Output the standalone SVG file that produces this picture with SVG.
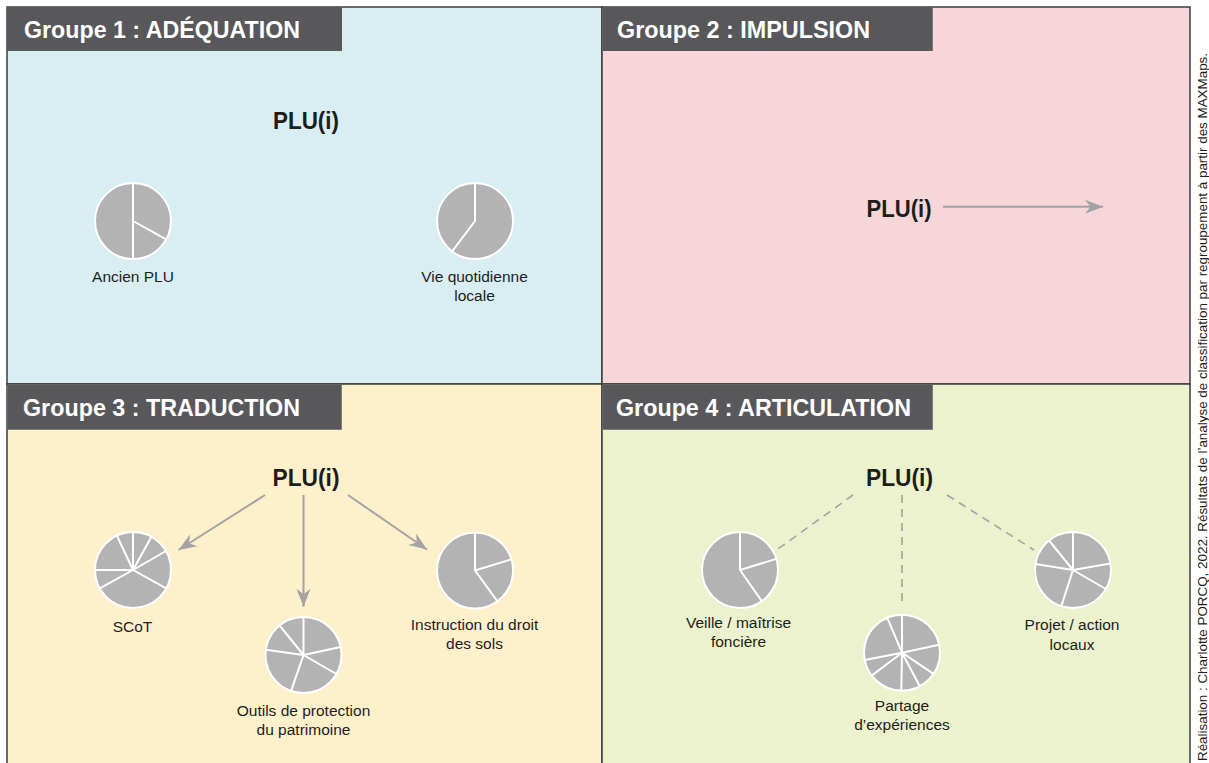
<svg xmlns="http://www.w3.org/2000/svg" width="1209" height="763" viewBox="0 0 1209 763">
<style>
.panel{stroke:#3c3c3c;stroke-width:1.5}
.tab{fill:#58585a}
.tabt{font-family:"Liberation Sans",Arial,sans-serif;font-weight:bold;font-size:23px;fill:#ffffff}
.plu{font-family:"Liberation Sans",Arial,sans-serif;font-weight:bold;font-size:24px;fill:#1d1d1b;text-anchor:middle}
.lbl{font-family:"Liberation Sans",Arial,sans-serif;font-size:15.5px;fill:#1d1d1b;text-anchor:middle}
.pie{fill:#b3b3b3;stroke:#ffffff;stroke-width:2}
.cut{stroke:#ffffff;stroke-width:2;fill:none}
.arr{stroke:#a3a3a3;stroke-width:2;fill:none;marker-end:url(#ah)}
.dash{stroke:#a3a3a3;stroke-width:1.6;fill:none;stroke-dasharray:8 6}
.credit{font-family:"Liberation Sans",Arial,sans-serif;font-size:12px;fill:#1d1d1b}
</style>
<defs>
<marker id="ah" markerUnits="userSpaceOnUse" markerWidth="20" markerHeight="16" viewBox="-19 -8 20 16" refX="0" refY="0" orient="auto">
<path d="M0,0 L-18,-7 L-12.5,0 L-18,7 Z" fill="#a3a3a3"/>
</marker>
</defs>
<rect x="0" y="0" width="1209" height="763" fill="#ffffff"/>

<g id="panel-1">
<rect class="panel" x="7" y="7" width="595" height="377" fill="#d9eef3"/>
<rect class="tab" x="7" y="7" width="335" height="44"/>
<text class="tabt" x="24" y="37.5" textLength="276" lengthAdjust="spacingAndGlyphs">Groupe 1 : ADÉQUATION</text>
</g>
<g id="panel-2">
<rect class="panel" x="602" y="7" width="588" height="377" fill="#f6d6d8"/>
<rect class="tab" x="602.75" y="7" width="330" height="44"/>
<text class="tabt" x="617" y="37.5" textLength="253" lengthAdjust="spacingAndGlyphs">Groupe 2 : IMPULSION</text>
</g>
<g id="panel-3">
<rect class="panel" x="7" y="384" width="595" height="390" fill="#fff0cc"/>
<rect class="tab" x="7.75" y="384.75" width="334" height="45"/>
<text class="tabt" x="23" y="415.5" textLength="277" lengthAdjust="spacingAndGlyphs">Groupe 3 : TRADUCTION</text>
</g>
<g id="panel-4">
<rect class="panel" x="602" y="384" width="588" height="390" fill="#ecf2cd"/>
<rect class="tab" x="602.75" y="384.75" width="330" height="45"/>
<text class="tabt" x="616" y="415.5" textLength="295" lengthAdjust="spacingAndGlyphs">Groupe 4 : ARTICULATION</text>
</g>

<g id="connectors">
<line class="arr" x1="943" y1="206.7" x2="1103" y2="206.7"/>
<line class="arr" x1="265" y1="495" x2="178.5" y2="550"/>
<line class="arr" x1="303.5" y1="495" x2="303.5" y2="606.7"/>
<line class="arr" x1="348" y1="495" x2="427" y2="549.5"/>
<line class="dash" x1="853" y1="495" x2="776.5" y2="550"/>
<line class="dash" x1="902" y1="495" x2="902" y2="607"/>
<line class="dash" x1="947" y1="495" x2="1034" y2="550"/>
</g>

<g id="plu-1"><text class="plu" x="306" y="128.5" textLength="66" lengthAdjust="spacingAndGlyphs">PLU(i)</text></g>
<g id="plu-2"><text class="plu" x="899" y="216.5" textLength="65" lengthAdjust="spacingAndGlyphs">PLU(i)</text></g>
<g id="plu-3"><text class="plu" x="306" y="485.5" textLength="67" lengthAdjust="spacingAndGlyphs">PLU(i)</text></g>
<g id="plu-4"><text class="plu" x="899.5" y="485.5" textLength="67" lengthAdjust="spacingAndGlyphs">PLU(i)</text></g>

<g id="ancien-plu">
<circle class="pie" cx="133" cy="221" r="38"/>
<path class="cut" d="M133,221 L133,183 M133,221 L166.2,239.4 M133,221 L133,259"/>
<text class="lbl" x="133" y="282">Ancien PLU</text>
</g>
<g id="vie-quotidienne">
<circle class="pie" cx="475" cy="221" r="38"/>
<path class="cut" d="M475,221 L475,183 M475,221 L452.1,251.3"/>
<text class="lbl" x="474.5" y="282">Vie quotidienne</text>
<text class="lbl" x="474.5" y="301">locale</text>
</g>
<g id="scot">
<circle class="pie" cx="133" cy="570" r="38"/>
<path class="cut" d="M133,570 L133,532 M133,570 L151.4,536.8 M133,570 L165.9,551 M133,570 L166.2,588.4 M133,570 L99.8,588.4 M133,570 L95,570 M133,570 L116.9,535.6"/>
<text class="lbl" x="132.5" y="632">SCoT</text>
</g>
<g id="outils-protection">
<circle class="pie" cx="303.5" cy="655" r="38"/>
<path class="cut" d="M303.5,655 L303.5,617 M303.5,655 L340.7,647.1 M303.5,655 L336.4,674 M303.5,655 L291.1,690.9 M303.5,655 L265.9,649.7 M303.5,655 L279.6,625.5"/>
<text class="lbl" x="303.5" y="716">Outils de protection</text>
<text class="lbl" x="303.5" y="735">du patrimoine</text>
</g>
<g id="instruction-droit-sols">
<circle class="pie" cx="475" cy="570.5" r="38"/>
<path class="cut" d="M475,570.5 L475,532.5 M475,570.5 L511.3,559.4 M475,570.5 L497.3,601.2"/>
<text class="lbl" x="474.5" y="629.5">Instruction du droit</text>
<text class="lbl" x="474.5" y="648.5">des sols</text>
</g>
<g id="veille-fonciere">
<circle class="pie" cx="740" cy="570" r="38"/>
<path class="cut" d="M740,570 L740,532 M740,570 L776.3,558.9 M740,570 L761.8,601.1"/>
<text class="lbl" x="738.5" y="627.5">Veille / maîtrise</text>
<text class="lbl" x="738.5" y="647">foncière</text>
</g>
<g id="partage-experiences">
<circle class="pie" cx="902" cy="652.7" r="38"/>
<path class="cut" d="M902,652.7 L902,614.7 M902,652.7 L939.2,644.8 M902,652.7 L933.5,673.9 M902,652.7 L919.8,686.3 M902,652.7 L901.3,690.7 M902,652.7 L871.7,675.6 M902,652.7 L864.7,660 M902,652.7 L887.2,617.7"/>
<text class="lbl" x="902" y="711">Partage</text>
<text class="lbl" x="902" y="730">d’expériences</text>
</g>
<g id="projet-action">
<circle class="pie" cx="1073" cy="570" r="38"/>
<path class="cut" d="M1073,570 L1073,532 M1073,570 L1110.4,563.4 M1073,570 L1105.9,589 M1073,570 L1061.3,606.1 M1073,570 L1035.5,564.1 M1073,570 L1049.1,540.5"/>
<text class="lbl" x="1072" y="630">Projet / action</text>
<text class="lbl" x="1072" y="649.5">locaux</text>
</g>

<text class="credit" transform="translate(1206.5,761) rotate(-90)" x="0" y="0" textLength="708" lengthAdjust="spacingAndGlyphs">Réalisation : Charlotte PORCQ, 2022. Résultats de l’analyse de classification par regroupement à partir des MAXMaps.</text>
</svg>
